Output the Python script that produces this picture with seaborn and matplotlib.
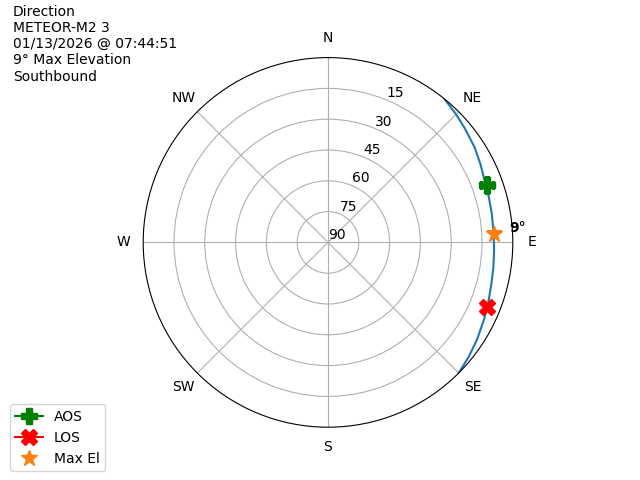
import numpy as np
import pandas as pd
import matplotlib
matplotlib.use("Agg")
import matplotlib.pyplot as plt
import seaborn as sns

# pass track (azimuth deg, elevation deg)
track_az = [39, 45, 50, 57, 63, 68, 74, 80, 87, 93, 99, 105, 110, 116, 123, 129, 135]
track_el = [0, 1.8, 3.2, 4.9, 6.6, 7.9, 8.6, 9.0, 9.2, 9.0, 8.5, 7.8, 6.8, 5.3, 3.4, 1.7, 0]

aos_az, aos_el = 70, 7.8
los_az, los_el = 112, 6.4
max_az, max_el = 87, 9.1

compass = ["N", "NE", "E", "SE", "S", "SW", "W", "NW"]
r_ticks = [15, 30, 45, 60, 75, 90]

title_lines = ["Direction", "METEOR-M2 3", "01/13/2026 @ 07:44:51",
               "9° Max Elevation", "Southbound"]

df = pd.DataFrame({"theta": np.radians(track_az), "el": track_el})

fig = plt.figure(figsize=(6.4, 4.8), dpi=100)
ax = fig.add_subplot(111, projection="polar")
ax.set_theta_zero_location("N")
ax.set_theta_direction(-1)

sns.lineplot(data=df, x="theta", y="el", ax=ax, sort=False, color="C0",
             linewidth=1.5, legend=False)

ax.plot(np.radians(aos_az), aos_el, marker="P", color="green", markersize=12,
        linestyle="-", label="AOS")
ax.plot(np.radians(los_az), los_el, marker="X", color="red", markersize=12,
        linestyle="-", label="LOS")
ax.plot(np.radians(max_az), max_el, marker="*", color="C1", markersize=12,
        linestyle="none", label="Max El")
ax.annotate(f"{round(max_el - 0.1):d}°", (np.radians(max_az), max_el),
            xytext=(11, 4), textcoords="offset points", fontweight="bold",
            va="center", ha="left")

ax.set_rlim(90, 0)
ax.set_yticks(r_ticks)
ax.set_xticks(np.radians(np.arange(0, 360, 45)))
ax.set_xticklabels(compass)
ax.set_xlabel("")
ax.set_ylabel("")

fig.text(0.02, 0.99, "\n".join(title_lines), va="top", ha="left", fontsize=10)
fig.legend(loc="lower left", bbox_to_anchor=(0.004, 0.004))

fig.savefig("out.png", dpi=100)
